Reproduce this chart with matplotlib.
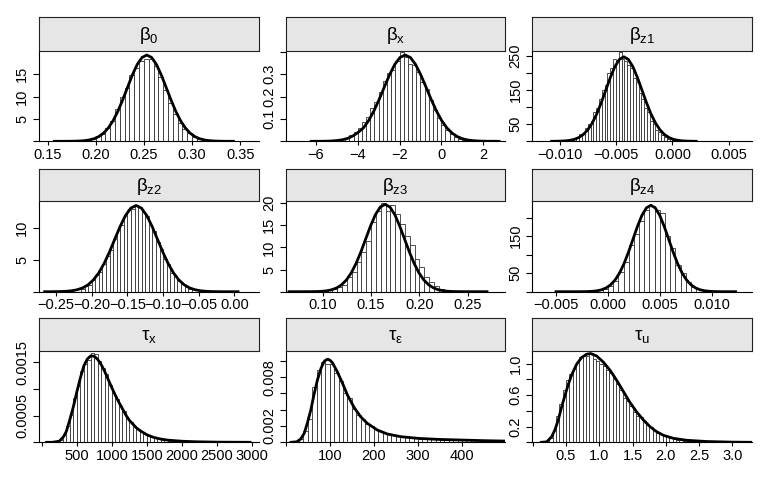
import numpy as np
import matplotlib
matplotlib.use('Agg')
import matplotlib.pyplot as plt

plt.rcParams['font.family'] = 'Liberation Sans'
plt.rcParams['mathtext.fontset'] = 'custom'
plt.rcParams['mathtext.rm'] = 'Liberation Sans'
plt.rcParams['mathtext.it'] = 'Liberation Sans'
plt.rcParams['mathtext.bf'] = 'Liberation Sans:bold'

titles = [r'$\beta_0$', r'$\beta_x$', r'$\beta_{z1}$',
          r'$\beta_{z2}$', r'$\beta_{z3}$', r'$\beta_{z4}$',
          r'$\tau_x$', r'$\tau_\varepsilon$', r'$\tau_u$']

# ---- beta_0
b0_start, b0_binw = 0.185, 0.005
b0_hist = [0.15, 0.3, 0.6, 1.1, 1.6, 2.9, 4.5, 7.3, 9.8, 12.0, 14.8, 16.3, 18.0, 18.4,
           18.3, 16.9, 14.3, 11.5, 8.6, 6.1, 4.2, 2.8, 1.8, 1.0, 0.55, 0.3, 0.14, 0.06]
b0_cx = [0.157, 0.163, 0.168, 0.173, 0.178, 0.183, 0.188, 0.193, 0.198, 0.203, 0.208, 0.213,
         0.218, 0.223, 0.228, 0.233, 0.238, 0.243, 0.248, 0.253, 0.258, 0.263, 0.268, 0.273,
         0.278, 0.283, 0.288, 0.293, 0.298, 0.303, 0.308, 0.313, 0.318, 0.323, 0.328, 0.333,
         0.338, 0.343]
b0_cy = [0.0, 0.0015, 0.004, 0.011, 0.027, 0.064, 0.140, 0.290, 0.566, 1.04, 1.82, 2.99,
         4.62, 6.75, 9.31, 12.10, 14.85, 17.18, 18.75, 19.30, 18.75, 17.18, 14.85, 12.10,
         9.31, 6.75, 4.62, 2.99, 1.82, 1.04, 0.566, 0.290, 0.140, 0.064, 0.027, 0.011,
         0.004, 0.0015]

# ---- beta_x
bx_start, bx_binw = -5.2, 0.2
bx_hist = [0.004, 0.006, 0.01, 0.016, 0.03, 0.042, 0.058, 0.085, 0.11, 0.15, 0.175, 0.22,
           0.27, 0.305, 0.318, 0.36, 0.398, 0.375, 0.345, 0.34, 0.31, 0.265, 0.232, 0.185,
           0.14, 0.105, 0.075, 0.05, 0.033, 0.02, 0.012, 0.006, 0.003]
bx_cx = [-6.23, -5.98, -5.73, -5.48, -5.23, -4.98, -4.73, -4.48, -4.23, -3.98, -3.73, -3.48,
         -3.23, -2.98, -2.73, -2.48, -2.23, -1.98, -1.73, -1.48, -1.23, -0.98, -0.73, -0.48,
         -0.23, 0.02, 0.27, 0.52, 0.77, 1.02, 1.27, 1.52, 1.77, 2.02, 2.27, 2.52, 2.77]
bx_cy = [0.0, 0.0001, 0.0002, 0.0006, 0.0016, 0.0035, 0.007, 0.013, 0.024, 0.04, 0.0597,
         0.0925, 0.1351, 0.1862, 0.2421, 0.2969, 0.3435, 0.3749, 0.386, 0.3749, 0.3435,
         0.2969, 0.2421, 0.1862, 0.1351, 0.0925, 0.0597, 0.0364, 0.0209, 0.0113, 0.0058,
         0.0028, 0.0013, 0.0005, 0.0002, 0.0001, 0.0]

# ---- beta_z1
bz1_start, bz1_binw = -0.0095, 0.00025
bz1_hist = [2, 4, 5, 10, 12, 20, 25, 38, 50, 60, 85, 98, 125, 150, 165, 200, 215, 240, 235,
            262, 240, 236, 222, 215, 185, 172, 140, 125, 98, 85, 60, 50, 34, 28, 17, 14, 8,
            6, 3, 2]
bz1_cx = [-0.0107, -0.0103, -0.0099, -0.0095, -0.0091, -0.0087, -0.0083, -0.0079, -0.0075,
          -0.0071, -0.0067, -0.0063, -0.0059, -0.0055, -0.0051, -0.0047, -0.0043, -0.0039,
          -0.0035, -0.0031, -0.0027, -0.0023, -0.0019, -0.0015, -0.0011, -0.0007, -0.0003,
          0.0001, 0.0005, 0.0009, 0.0013, 0.0017, 0.0021]
bz1_cy = [0.07, 0.22, 0.54, 1.26, 2.74, 5.63, 10.84, 19.66, 33.42, 53.43, 80.20, 113.08,
          149.81, 186.44, 217.98, 239.39, 247.0, 239.39, 217.98, 186.44, 149.81, 113.08,
          80.20, 53.43, 33.42, 19.66, 10.84, 5.63, 2.74, 1.26, 0.54, 0.22, 0.07]

# ---- beta_z2
bz2_start, bz2_binw = -0.215, 0.005
bz2_hist = [0.5, 0.9, 1.1, 1.8, 2.6, 3.1, 4.4, 5.6, 6.5, 8.2, 9.6, 10.4, 11.9, 12.8, 13.0,
            13.6, 13.2, 12.4, 11.9, 10.4, 9.5, 7.8, 6.7, 5.1, 4.3, 3.0, 2.4, 1.6, 1.2, 0.8,
            0.5]
bz2_cx = [-0.266, -0.2578, -0.2503, -0.2428, -0.2353, -0.2278, -0.2203, -0.2128, -0.2053,
          -0.1978, -0.1903, -0.1828, -0.1753, -0.1678, -0.1603, -0.1528, -0.1453, -0.1378,
          -0.1303, -0.1228, -0.1153, -0.1078, -0.1003, -0.0928, -0.0853, -0.0778, -0.0703,
          -0.0628, -0.0553, -0.0478, -0.0403, -0.0328, -0.0253, -0.0178, 0.005]
bz2_cy = [0.0, 0.0, 0.01, 0.03, 0.07, 0.15, 0.31, 0.59, 1.07, 1.83, 2.92, 4.38, 6.18, 8.19,
          10.19, 11.91, 13.08, 13.5, 13.08, 11.91, 10.19, 8.19, 6.18, 4.38, 2.92, 1.83, 1.07,
          0.59, 0.31, 0.15, 0.07, 0.03, 0.01, 0.0, 0.0]

# ---- beta_z3
bz3_start, bz3_binw = 0.100, 0.005
bz3_hist = [0.1, 0.3, 0.5, 1.0, 1.6, 3.3, 4.4, 6.8, 9.0, 11.5, 15.8, 18.2, 20.0, 18.3, 19.5,
            17.6, 15.2, 12.6, 10.6, 7.4, 5.6, 3.3, 2.3, 1.2, 0.6, 0.3, 0.12]
bz3_cx = [0.065, 0.0845, 0.0895, 0.0945, 0.0995, 0.1045, 0.1095, 0.1145, 0.1195, 0.1245,
          0.1295, 0.1345, 0.1395, 0.1445, 0.1495, 0.1545, 0.1595, 0.1645, 0.1695, 0.1745,
          0.1795, 0.1845, 0.1895, 0.1945, 0.1995, 0.2045, 0.2095, 0.2145, 0.2195, 0.2245,
          0.2295, 0.2345, 0.2395, 0.2445, 0.270]
bz3_cy = [0.0, 0.01, 0.02, 0.04, 0.10, 0.22, 0.45, 0.87, 1.57, 2.67, 4.27, 6.41, 9.04, 11.98,
          14.91, 17.43, 19.14, 19.75, 19.14, 17.43, 14.91, 11.98, 9.04, 6.41, 4.27, 2.67,
          1.57, 0.87, 0.45, 0.22, 0.10, 0.04, 0.02, 0.01, 0.0]

# ---- beta_z4
bz4_start, bz4_binw = -0.0005, 0.0005
bz4_hist = [7, 15, 28, 52, 80, 125, 157, 190, 222, 231, 222, 212, 150, 118, 72, 50, 25, 13]
bz4_cx = [-0.005, -0.00275, -0.00232, -0.00189, -0.00146, -0.00103, -0.0006, -0.00017,
          0.00026, 0.00069, 0.00112, 0.00155, 0.00198, 0.00241, 0.00284, 0.00327, 0.0037,
          0.00413, 0.00456, 0.00499, 0.00542, 0.00585, 0.00628, 0.00671, 0.00714, 0.00757,
          0.008, 0.00843, 0.00886, 0.00929, 0.00972, 0.01015, 0.01058, 0.01101, 0.0123]
bz4_cy = [0.0, 0.07, 0.2, 0.5, 1.2, 2.6, 5.3, 10.3, 18.6, 31.6, 50.5, 75.8, 106.9, 141.6,
          176.2, 206.1, 226.3, 233.5, 226.3, 206.1, 176.2, 141.6, 106.9, 75.8, 50.5, 31.6,
          18.6, 10.3, 5.3, 2.6, 1.2, 0.5, 0.2, 0.07, 0.0]

# ---- tau_x
tx_start, tx_binw = 250, 50
tx_hist = [0.00004, 0.00013, 0.00031, 0.00052, 0.00083, 0.00105, 0.00134, 0.00146, 0.00155,
           0.00167, 0.00166, 0.00152, 0.00140, 0.00127, 0.00108, 0.00093, 0.00082, 0.00068,
           0.00058, 0.00045, 0.00038, 0.00029, 0.00025, 0.00019, 0.00016, 0.00012, 0.0001,
           0.00008, 0.00006, 0.00005, 0.00004, 0.00003, 0.00003, 0.00002, 0.00001]
tx_cx = [70, 150, 250, 309, 350, 400, 450, 500, 550, 600, 650, 700, 750, 800, 850, 900, 950,
         1000, 1050, 1100, 1150, 1200, 1250, 1300, 1350, 1400, 1500, 1600, 1700, 1800, 2000,
         2200, 2500, 2970]
tx_cy = [0.0, 0.0, 0.00002, 0.0001, 0.0002, 0.00042, 0.00066, 0.00094, 0.0012, 0.00143,
         0.00156, 0.00162, 0.00161, 0.00155, 0.00145, 0.00132, 0.00117, 0.00102, 0.00088,
         0.00075, 0.00063, 0.00051, 0.00041, 0.00034, 0.00027, 0.00022, 0.00014, 0.00009,
         0.00006, 0.00004, 0.00002, 0.00001, 0.000003, 0.0]

# ---- tau_eps
te_start, te_binw = 30, 10
te_hist = [0.00038, 0.0014, 0.0029, 0.0068, 0.0089, 0.0099, 0.0096, 0.0096, 0.0085, 0.0075,
           0.006, 0.0054, 0.0041, 0.0034, 0.0029, 0.0023, 0.002, 0.0016, 0.0014, 0.0011,
           0.001, 0.00088, 0.00075, 0.00069, 0.00059, 0.00056, 0.0005, 0.00045, 0.00045,
           0.0004, 0.00038, 0.00036, 0.00033, 0.00034, 0.0003, 0.00029, 0.00028, 0.00025,
           0.00025, 0.00023, 0.00023, 0.0002, 0.0002, 0.00018, 0.00018, 0.00015, 0.00015]
te_cx = [12, 25, 34, 42, 49, 57, 64, 72, 80, 87, 91, 96, 101, 106, 117, 129, 140, 155, 170,
         185, 208, 231, 261, 299, 344, 390, 450, 498]
te_cy = [0.0, 0.00006, 0.0004, 0.0011, 0.00233, 0.00397, 0.00581, 0.00765, 0.00907, 0.00989,
         0.01009, 0.01019, 0.01005, 0.00976, 0.00866, 0.00723, 0.00581, 0.00429, 0.00314,
         0.00233, 0.0015, 0.00101, 0.00069, 0.00049, 0.00036, 0.00029, 0.0002, 0.00015]

# ---- tau_u
tu_start, tu_binw = 0.25, 0.05
tu_hist = [0.05, 0.16, 0.33, 0.49, 0.66, 0.79, 0.87, 0.93, 1.02, 1.08, 1.1, 1.1, 1.14, 1.06,
           1.03, 0.99, 0.97, 0.92, 0.88, 0.81, 0.74, 0.66, 0.56, 0.52, 0.46, 0.39, 0.34, 0.32,
           0.27, 0.22, 0.19, 0.15, 0.12, 0.1, 0.08, 0.065, 0.05, 0.04, 0.033, 0.028, 0.022,
           0.018, 0.014, 0.011, 0.008]
tu_cx = [0.13, 0.21, 0.285, 0.335, 0.385, 0.435, 0.485, 0.535, 0.585, 0.66, 0.735, 0.81, 0.87,
         0.96, 1.06, 1.16, 1.26, 1.36, 1.46, 1.56, 1.66, 1.76, 1.86, 1.96, 2.11, 2.31, 2.61,
         3.0, 3.28]
tu_cy = [0.0, 0.005, 0.07, 0.158, 0.286, 0.449, 0.594, 0.735, 0.854, 0.991, 1.077, 1.119,
         1.128, 1.097, 1.02, 0.918, 0.79, 0.649, 0.508, 0.388, 0.286, 0.2, 0.136, 0.09, 0.051,
         0.026, 0.01, 0.002, 0.0]

M = '\u2212'
panels = [
    dict(h=(b0_start, b0_binw, b0_hist), c=(b0_cx, b0_cy), xlim=(0.141, 0.369), ylim=(0, 20.2),
         xt=[0.15, 0.20, 0.25, 0.30, 0.35], xl=['0.15', '0.20', '0.25', '0.30', '0.35'],
         yt=[0, 5, 10, 15], yl=['', '5', '10', '15']),
    dict(h=(bx_start, bx_binw, bx_hist), c=(bx_cx, bx_cy), xlim=(-7.45, 3.06), ylim=(0, 0.404),
         xt=[-6, -4, -2, 0, 2], xl=[M + '6', M + '4', M + '2', '0', '2'],
         yt=[0, 0.1, 0.2, 0.3, 0.4], yl=['', '0.1', '0.2', '0.3', '']),
    dict(h=(bz1_start, bz1_binw, bz1_hist), c=(bz1_cx, bz1_cy), xlim=(-0.01241, 0.00703),
         ylim=(0, 264), xt=[-0.010, -0.005, 0.0, 0.005],
         xl=[M + '0.010', M + '0.005', '0.000', '0.005'],
         yt=[0, 50, 100, 150, 200, 250], yl=['', '50', '', '150', '', '250']),
    dict(h=(bz2_start, bz2_binw, bz2_hist), c=(bz2_cx, bz2_cy), xlim=(-0.2739, 0.0337),
         ylim=(0, 14.2), xt=[-0.25, -0.20, -0.15, -0.10, -0.05, 0.0],
         xl=[M + '0.25', M + '0.20', M + '0.15', M + '0.10', M + '0.05', '0.00'],
         yt=[0, 5, 10], yl=['', '5', '10']),
    dict(h=(bz3_start, bz3_binw, bz3_hist), c=(bz3_cx, bz3_cy), xlim=(0.0616, 0.2888),
         ylim=(0, 20.5), xt=[0.10, 0.15, 0.20, 0.25], xl=['0.10', '0.15', '0.20', '0.25'],
         yt=[0, 5, 10, 15, 20], yl=['', '5', '10', '15', '20']),
    dict(h=(bz4_start, bz4_binw, bz4_hist), c=(bz4_cx, bz4_cy), xlim=(-0.00728, 0.01385),
         ylim=(0, 245), xt=[-0.005, 0.0, 0.005, 0.010],
         xl=[M + '0.005', '0.000', '0.005', '0.010'],
         yt=[0, 50, 100, 150, 200], yl=['', '50', '', '150', '']),
    dict(h=(tx_start, tx_binw, tx_hist), c=(tx_cx, tx_cy), xlim=(-38.6, 3090), ylim=(0, 0.00171),
         xt=[0, 500, 1000, 1500, 2000, 2500, 3000],
         xl=['', '500', '1000', '1500', '2000', '2500', '3000'],
         yt=[0, 0.0005, 0.0010, 0.0015], yl=['', '0.0005', '', '0.0015']),
    dict(h=(te_start, te_binw, te_hist), c=(te_cx, te_cy), xlim=(1.8, 498), ylim=(0, 0.0112),
         xt=[0, 100, 200, 300, 400], xl=['', '100', '200', '300', '400'],
         yt=[0, 0.002, 0.004, 0.006, 0.008, 0.010], yl=['', '0.002', '', '', '0.008', '']),
    dict(h=(tu_start, tu_binw, tu_hist), c=(tu_cx, tu_cy), xlim=(-0.005, 3.29), ylim=(0, 1.16),
         xt=[0, 0.5, 1.0, 1.5, 2.0, 2.5, 3.0],
         xl=['', '0.5', '1.0', '1.5', '2.0', '2.5', '3.0'],
         yt=[0, 0.2, 0.4, 0.6, 0.8, 1.0], yl=['', '0.2', '', '0.6', '', '1.0']),
]

W, H = 763, 486
fig = plt.figure(figsize=(W / 100, H / 100), dpi=100)

col_left = [39, 285.7, 532.3]
col_w = 219.5
strip_top = [17.3, 169.3, 318.3]
strip_bot = [51, 201, 351]
axis_bot = [141.3, 291.7, 442.3]

for i, p in enumerate(panels):
    r, c = divmod(i, 3)
    ax = fig.add_axes([col_left[c] / W, 1 - axis_bot[r] / H, col_w / W,
                       (axis_bot[r] - strip_bot[r]) / H])
    sx = fig.add_axes([col_left[c] / W, 1 - strip_bot[r] / H, col_w / W,
                       (strip_bot[r] - strip_top[r]) / H])

    start, binw, heights = p['h']
    lefts = start + binw * np.arange(len(heights))
    ax.bar(lefts, heights, width=binw, align='edge', color='white',
           edgecolor='#333333', linewidth=0.6, zorder=2)
    ax.plot(p['c'][0], p['c'][1], color='black', lw=2.0, zorder=3)

    ax.set_xlim(*p['xlim'])
    ax.set_ylim(*p['ylim'])
    ax.set_xticks(p['xt'])
    ax.set_xticklabels(p['xl'], fontsize=10.5)
    ax.set_yticks(p['yt'])
    ax.set_yticklabels(p['yl'], fontsize=10.5, rotation=90, va='center')
    ax.tick_params(axis='x', direction='out', length=3.2, width=0.8, pad=1.5, colors='black')
    ax.tick_params(axis='y', direction='out', length=4.0, width=0.8, pad=3.0, colors='black')
    for s in ['top', 'right']:
        ax.spines[s].set_visible(False)
    for s in ['left', 'bottom']:
        ax.spines[s].set_linewidth(0.8)
        ax.spines[s].set_color('black')

    sx.set_facecolor('#e6e6e6')
    sx.set_xticks([])
    sx.set_yticks([])
    for s in sx.spines.values():
        s.set_linewidth(0.8)
        s.set_color('#222222')
    sx.text(0.5, 0.45, titles[i], transform=sx.transAxes, ha='center', va='center',
            fontsize=13.5)

fig.savefig('out.png', dpi=100)
